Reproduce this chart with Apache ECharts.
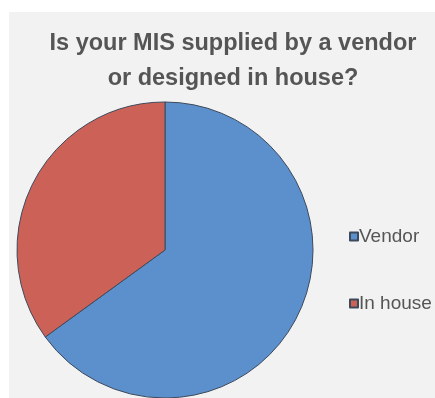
<!DOCTYPE html>
<html>
<head>
<meta charset="utf-8">
<script src="https://cdn.jsdelivr.net/npm/echarts@6/dist/echarts.min.js"></script>
<style>
  html, body { margin: 0; padding: 0; background: #ffffff; }
  #chart { width: 435px; height: 398px; }
</style>
</head>
<body>
<div id="chart"></div>
<script>
// Survey answers: share of respondents per MIS source
const categories = ['Vendor', 'In house'];
const shares = [65, 35];
const colors = ['#5b90cc', '#cc6257'];
const titleText = 'Is your MIS supplied by a vendor\nor designed in house?';

const chart = echarts.init(document.getElementById('chart'), null, { renderer: 'canvas' });

chart.setOption({
  animation: false,
  backgroundColor: '#ffffff',
  graphic: [{
    type: 'rect',
    z: -10,
    shape: { x: 9, y: 12, width: 426, height: 386 },
    style: { fill: '#f2f2f2' }
  }],
  title: {
    text: titleText,
    left: 228,
    top: 21,
    textAlign: 'center',
    textStyle: {
      fontFamily: 'Liberation Sans, Arial, sans-serif',
      fontWeight: 'bold',
      fontSize: 23.5,
      lineHeight: 35,
      color: '#555555'
    }
  },
  legend: {
    orient: 'vertical',
    left: 344,
    top: 222,
    icon: 'rect',
    itemWidth: 8,
    itemHeight: 8,
    itemGap: 48,
    textStyle: {
      fontFamily: 'Liberation Sans, Arial, sans-serif',
      fontSize: 19,
      color: '#555555',
      padding: [0, 0, 0, -4]
    },
    data: categories
  },
  series: [{
    type: 'pie',
    center: [165, 250],
    radius: 148,
    startAngle: 90,
    clockwise: true,
    label: { show: false },
    labelLine: { show: false },
    emphasis: { disabled: true },
    itemStyle: { borderColor: '#3d4a5c', borderWidth: 1 },
    data: categories.map((name, i) => ({
      name,
      value: shares[i],
      itemStyle: { color: colors[i] }
    }))
  }]
});
</script>
</body>
</html>
